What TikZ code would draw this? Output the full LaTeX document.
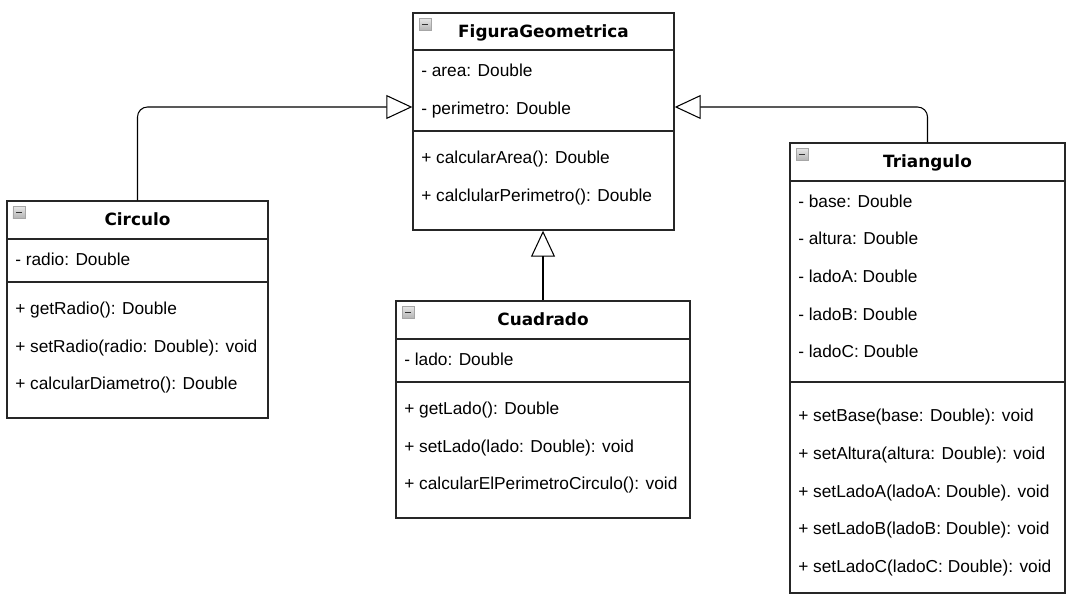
\documentclass[tikz,border=0pt]{standalone}
\usepackage{fontspec}
\setmainfont{Liberation Sans}
\newfontfamily\titlefont{DejaVu Sans}
\usepackage{xcolor}
\usepackage{tikz}
\usetikzlibrary{arrows.meta, positioning, fit}

\begin{document}
\begin{tikzpicture}[
    x=0.025cm, y=-0.025cm,
    kelas/.style={draw=black!85, line width=1pt, inner sep=0pt, fill=white},
    garis/.style={draw=black!85, line width=1pt},
    judul/.style={anchor=base, inner sep=0pt,
                  font=\titlefont\bfseries\fontsize{12}{14}\selectfont},
    anggota/.style={anchor=base west, inner sep=0pt,
                    font=\fontsize{12.3}{14}\selectfont},
    ikon/.style={minimum size=0.3cm, inner sep=0pt, draw=gray!70,
                 top color=gray!20, bottom color=gray!60,
                 path picture={\draw[line width=1.1pt, black!80]
                   ([xshift=0.07cm]path picture bounding box.west) --
                   ([xshift=-0.07cm]path picture bounding box.east);}},
    warisan/.style={-{Triangle[open, length=0.65cm, width=0.6cm]},
                    line width=0.75pt, rounded corners=0.25cm}
  ]
    \useasboundingbox (0,0) rectangle (1075,599);

    % FiguraGeometrica
    \node[kelas, fit={(413,13) (674,230)}] (figura) {};
    \draw[garis] (413,50) -- (674,50);
    \draw[garis] (413,131) -- (674,131);
    \node[ikon] (figuraIkon) at (425,24.5) {};
    \node[judul] (figuraJudul) at (543.5,37.5) {FiguraGeometrica};
    \node[anggota] (figuraArea) at (421,76) {- area: Double};
    \node[anggota] (figuraPerim) at (421,114) {- perimetro: Double};
    \node[anggota] (figuraM1) at (421,163) {+ calcularArea(): Double};
    \node[anggota] (figuraM2) at (421,201) {+ calclularPerimetro(): Double};

    % Circulo
    \node[kelas, fit={(7,201) (268,418)}] (circulo) {};
    \draw[garis] (7,239) -- (268,239);
    \draw[garis] (7,282) -- (268,282);
    \node[ikon] (circuloIkon) at (19,212.5) {};
    \node[judul] (circuloJudul) at (137.5,225.5) {Circulo};
    \node[anggota] (circuloRadio) at (15,265) {- radio: Double};
    \node[anggota] (circuloM1) at (15,314) {+ getRadio(): Double};
    \node[anggota] (circuloM2) at (15,352) {+ setRadio(radio: Double): void};
    \node[anggota] (circuloM3) at (15,389) {+ calcularDiametro(): Double};

    % Cuadrado
    \node[kelas, fit={(396,301) (690,518)}] (cuadrado) {};
    \draw[garis] (396,339) -- (690,339);
    \draw[garis] (396,382) -- (690,382);
    \node[ikon] (cuadradoIkon) at (408,312.5) {};
    \node[judul] (cuadradoJudul) at (543,325.5) {Cuadrado};
    \node[anggota] (cuadradoLado) at (404,365) {- lado: Double};
    \node[anggota] (cuadradoM1) at (404,414) {+ getLado(): Double};
    \node[anggota] (cuadradoM2) at (404,452) {+ setLado(lado: Double): void};
    \node[anggota] (cuadradoM3) at (404,489) {+ calcularElPerimetroCirculo(): void};

    % Triangulo
    \node[kelas, fit={(790,143) (1065,593)}] (triangulo) {};
    \draw[garis] (790,181) -- (1065,181);
    \draw[garis] (790,382) -- (1065,382);
    \node[ikon] (trianguloIkon) at (802,154.5) {};
    \node[judul] (trianguloJudul) at (927.5,167.5) {Triangulo};
    \node[anggota] (trianguloBase) at (798,207) {- base: Double};
    \node[anggota] (trianguloAltura) at (798,244) {- altura: Double};
    \node[anggota] (trianguloA) at (798,282) {- ladoA: Double};
    \node[anggota] (trianguloB) at (798,320) {- ladoB: Double};
    \node[anggota] (trianguloC) at (798,357) {- ladoC: Double};
    \node[anggota] (trianguloM1) at (798,421) {+ setBase(base: Double): void};
    \node[anggota] (trianguloM2) at (798,459) {+ setAltura(altura: Double): void};
    \node[anggota] (trianguloM3) at (798,497) {+ setLadoA(ladoA: Double). void};
    \node[anggota] (trianguloM4) at (798,534) {+ setLadoB(ladoB: Double): void};
    \node[anggota] (trianguloM5) at (798,572) {+ setLadoC(ladoC: Double): void};

    % pewarisan
    \draw[warisan] (circulo.north) |- ([yshift=0.3625cm]figura.west);
    \draw[warisan] (triangulo.north) |- ([yshift=0.3625cm]figura.east);
    \draw[warisan] (cuadrado.north) -- (cuadrado.north |- figura.south);
  \end{tikzpicture}
\end{document}
